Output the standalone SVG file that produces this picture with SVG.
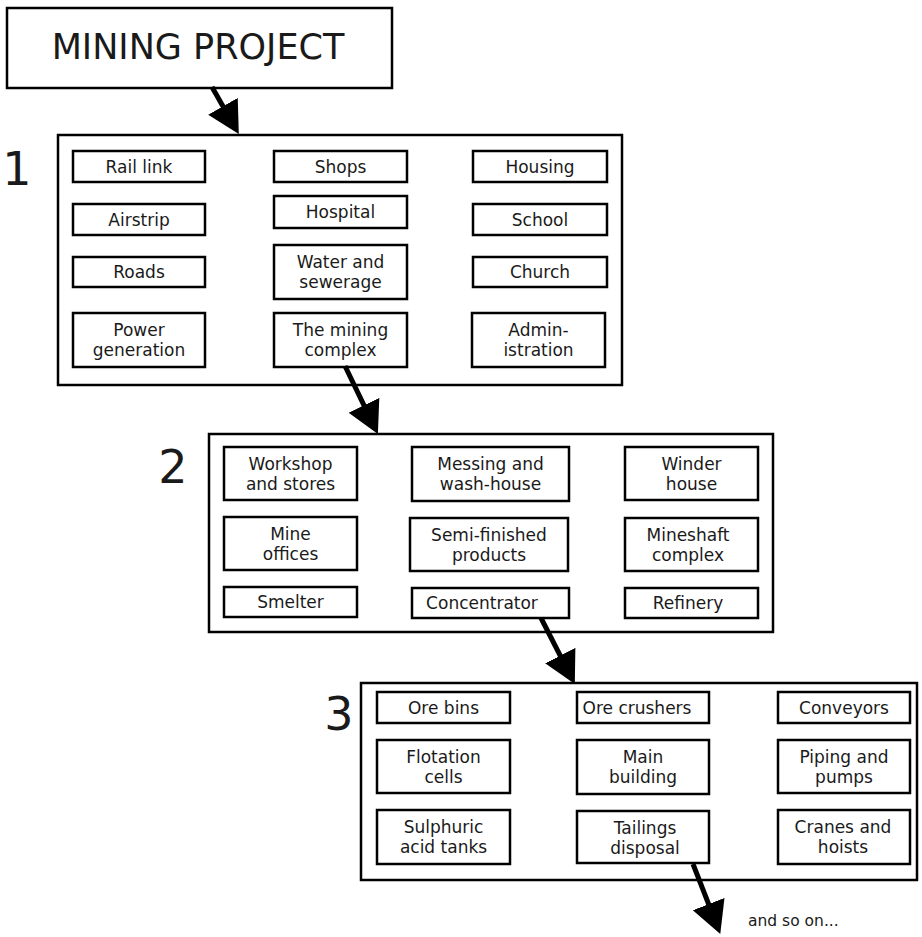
<svg xmlns="http://www.w3.org/2000/svg" width="922" height="937" viewBox="0 0 922 937">
<style>
  text { font-family: "DejaVu Sans", "Liberation Sans", sans-serif; fill: #1a1a1a; text-anchor: middle; }
  .n { fill: #fff; stroke: #000; stroke-width: 2.5; }
  .g { fill: #fff; stroke: #000; stroke-width: 2.5; }
  .t { font-size: 17px; }
  .lvl { font-size: 46px; }
  .title { font-size: 35px; }
  .note { font-size: 15.5px; text-anchor: start; }
  .arr { stroke: #000; stroke-width: 5; fill: none; marker-end: url(#ah); }
</style>
<defs>
  <marker id="ah" markerUnits="userSpaceOnUse" markerWidth="34" markerHeight="36" refX="12" refY="17" orient="auto" viewBox="0 0 34 36">
    <path d="M0,0 L32,17 L0,34 Z" fill="#000"/>
  </marker>
</defs>

<g id="title">
  <rect class="g" x="7" y="8" width="385" height="80"/>
  <text class="title" x="198" y="59">MINING PROJECT</text>
</g>

<g id="level1">
  <text class="lvl" x="17" y="185">1</text>
  <rect class="g" x="58" y="135" width="564" height="250"/>
</g>
<g id="level2">
  <text class="lvl" x="173" y="483">2</text>
  <rect class="g" x="209" y="434" width="564" height="198"/>
</g>
<g id="level3">
  <text class="lvl" x="339" y="730">3</text>
  <rect class="g" x="361" y="683" width="556" height="197"/>
</g>

<!-- level 1 nodes -->
<g id="rail-link"><rect class="n" x="73" y="151" width="132" height="31"/><text class="t" x="139" y="173">Rail link</text></g>
<g id="airstrip"><rect class="n" x="73" y="204" width="132" height="31"/><text class="t" x="139" y="226">Airstrip</text></g>
<g id="roads"><rect class="n" x="73" y="257" width="132" height="30"/><text class="t" x="139" y="278">Roads</text></g>
<g id="power"><rect class="n" x="73" y="313" width="132" height="54"/><text class="t" x="139" y="336">Power</text><text class="t" x="139" y="356">generation</text></g>

<g id="shops"><rect class="n" x="274" y="151" width="133" height="31"/><text class="t" x="340.5" y="173">Shops</text></g>
<g id="hospital"><rect class="n" x="274" y="196" width="133" height="32"/><text class="t" x="340.5" y="218">Hospital</text></g>
<g id="water"><rect class="n" x="274" y="245" width="133" height="54"/><text class="t" x="340.5" y="268">Water and</text><text class="t" x="340.5" y="288">sewerage</text></g>
<g id="mining-complex"><rect class="n" x="274" y="313" width="133" height="54"/><text class="t" x="340.5" y="336">The mining</text><text class="t" x="340.5" y="356">complex</text></g>

<g id="housing"><rect class="n" x="473" y="151" width="134" height="31"/><text class="t" x="540" y="173">Housing</text></g>
<g id="school"><rect class="n" x="473" y="204" width="134" height="31"/><text class="t" x="540" y="226">School</text></g>
<g id="church"><rect class="n" x="473" y="257" width="134" height="30"/><text class="t" x="540" y="278">Church</text></g>
<g id="admin"><rect class="n" x="472" y="313" width="133" height="54"/><text class="t" x="538.5" y="336">Admin-</text><text class="t" x="538.5" y="356">istration</text></g>

<!-- level 2 nodes -->
<g id="workshop"><rect class="n" x="224" y="447" width="133" height="53"/><text class="t" x="290.5" y="470">Workshop</text><text class="t" x="290.5" y="490">and stores</text></g>
<g id="mine-offices"><rect class="n" x="224" y="517" width="133" height="53"/><text class="t" x="290.5" y="540">Mine</text><text class="t" x="290.5" y="560">offices</text></g>
<g id="smelter"><rect class="n" x="224" y="587" width="133" height="30"/><text class="t" x="290.5" y="608">Smelter</text></g>

<g id="messing"><rect class="n" x="412" y="447" width="157" height="54"/><text class="t" x="490.5" y="470">Messing and</text><text class="t" x="490.5" y="490">wash-house</text></g>
<g id="semi-finished"><rect class="n" x="410" y="518" width="158" height="53"/><text class="t" x="489" y="541">Semi-finished</text><text class="t" x="489" y="561">products</text></g>
<g id="concentrator"><rect class="n" x="412" y="588" width="157" height="30"/><text class="t" x="482" y="609">Concentrator</text></g>

<g id="winder"><rect class="n" x="625" y="447" width="133" height="53"/><text class="t" x="691.5" y="470">Winder</text><text class="t" x="691.5" y="490">house</text></g>
<g id="mineshaft"><rect class="n" x="625" y="518" width="133" height="53"/><text class="t" x="688" y="541">Mineshaft</text><text class="t" x="688" y="561">complex</text></g>
<g id="refinery"><rect class="n" x="625" y="588" width="133" height="30"/><text class="t" x="688" y="609">Refinery</text></g>

<!-- level 3 nodes -->
<g id="ore-bins"><rect class="n" x="377" y="692" width="133" height="31"/><text class="t" x="443.5" y="714">Ore bins</text></g>
<g id="flotation"><rect class="n" x="377" y="740" width="133" height="53"/><text class="t" x="443.5" y="763">Flotation</text><text class="t" x="443.5" y="783">cells</text></g>
<g id="sulphuric"><rect class="n" x="377" y="810" width="133" height="54"/><text class="t" x="443.5" y="833">Sulphuric</text><text class="t" x="443.5" y="853">acid tanks</text></g>

<g id="ore-crushers"><rect class="n" x="577" y="692" width="132" height="31"/><text class="t" x="637" y="714">Ore crushers</text></g>
<g id="main-building"><rect class="n" x="577" y="740" width="132" height="54"/><text class="t" x="643" y="763">Main</text><text class="t" x="643" y="783">building</text></g>
<g id="tailings"><rect class="n" x="577" y="811" width="132" height="52"/><text class="t" x="645" y="834">Tailings</text><text class="t" x="645" y="854">disposal</text></g>

<g id="conveyors"><rect class="n" x="778" y="692" width="132" height="31"/><text class="t" x="844" y="714">Conveyors</text></g>
<g id="piping"><rect class="n" x="778" y="740" width="132" height="53"/><text class="t" x="844" y="763">Piping and</text><text class="t" x="844" y="783">pumps</text></g>
<g id="cranes"><rect class="n" x="778" y="810" width="132" height="54"/><text class="t" x="843" y="833">Cranes and</text><text class="t" x="843" y="853">hoists</text></g>

<g id="connectors">
  <line class="arr" x1="212" y1="87" x2="228.9" y2="116.7"/>
  <line class="arr" x1="345" y1="366" x2="369.2" y2="416.1"/>
  <line class="arr" x1="541" y1="618" x2="565.7" y2="666.3"/>
  <line class="arr" x1="693" y1="864" x2="713" y2="915.3"/>
</g>

<text class="note" x="748" y="926">and so on...</text>
</svg>
